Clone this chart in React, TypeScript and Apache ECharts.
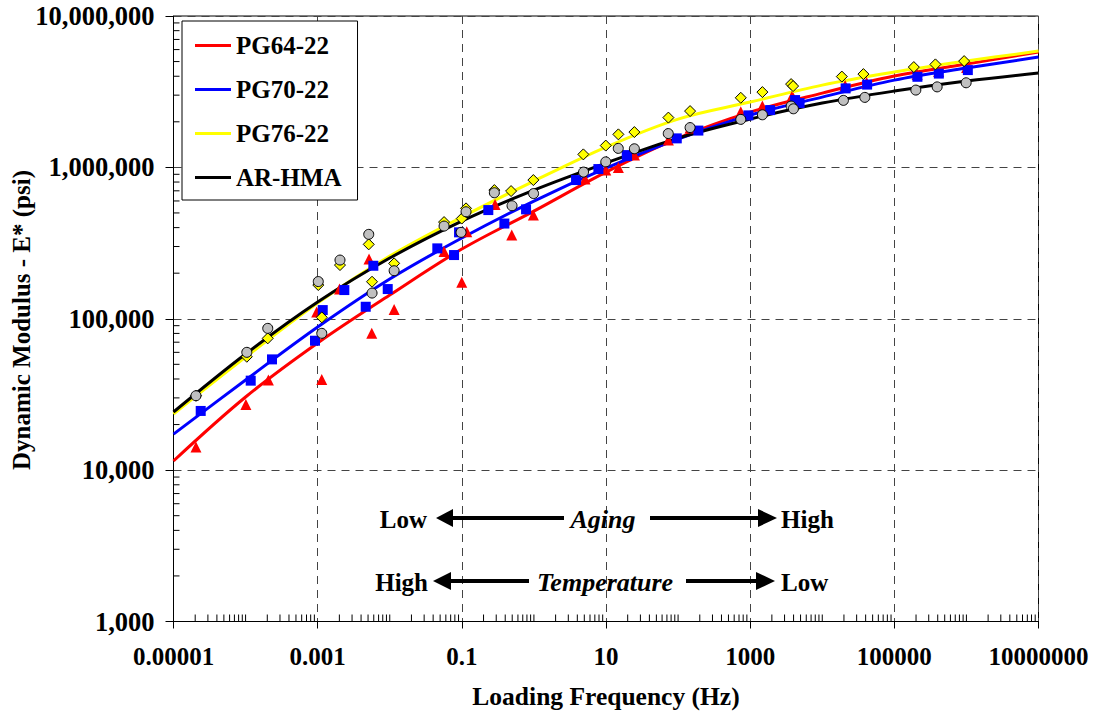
import React, { useEffect, useRef } from "react";
import * as echarts from "echarts";

const FONT = '"Liberation Serif", "Times New Roman", serif';

// Legend / series names
const names = ["PG64-22", "PG70-22", "PG76-22", "AR-HMA"];
const lineColors = ["#ff0000", "#0000ff", "#ffff00", "#000000"];

// Axis titles and tick labels
const xTitle = "Loading Frequency (Hz)";
const yTitle = "Dynamic Modulus - E* (psi)";
const xTickExponents = [-5, -3, -1, 1, 3, 5, 7];
const xTickLabels = ["0.00001", "0.001", "0.1", "10", "1000", "100000", "10000000"];
const yTickLabels = ["1,000", "10,000", "100,000", "1,000,000", "10,000,000"];

// Master curves (frequency in Hz, dynamic modulus in psi)
const curveFreq = [1e-5, 1e-4, 1e-3, 1e-2, 1e-1, 1, 10, 100, 1000, 1e4, 1e5, 1e6, 1e7];
const curvePG6422 = [11490, 30400, 69100, 143400, 288600, 514400, 930900, 1561000, 2318600, 3095600, 4009000, 4811800, 5775000];
const curvePG7022 = [17300, 39370, 88100, 182900, 341300, 599100, 989400, 1537900, 2215200, 2913000, 3772000, 4529000, 5352000];
const curvePG7622 = [23500, 55800, 127000, 259500, 469600, 812100, 1361700, 2085000, 2700000, 3495600, 4260000, 5036000, 5864000];
const curveARHMA = [24200, 58500, 128900, 251700, 441900, 708000, 1067600, 1561000, 2085000, 2659000, 3192000, 3715000, 4196000];

// Measured points (reduced frequency Hz, E* psi)
const pg6422Freq = [2.05e-5, 1.01e-4, 2.07e-4, 9.7e-4, 2.01e-3, 5.16e-3, 1.14e-3, 5.63e-3, 1.15e-2, 5.67e-2, 0.117, 0.289, 0.0997, 0.493, 0.982, 5.12, 9.93, 24.8, 14.85, 73.4, 146.7, 741, 1478, 3781, 3980, 20770, 41260, 207200, 411700, 1006700];
const pg6422Mod = [14200, 27100, 39400, 110700, 157100, 248000, 39700, 80100, 115000, 277900, 375600, 568000, 174200, 357200, 484100, 837000, 959800, 1205500, 1000000, 1514700, 1817600, 2329200, 2540300, 2935200, 2869200, 3470000, 3631700, 4101700, 4292900, 4563500];

const pg7022Freq = [2.385e-5, 1.178e-4, 2.326e-4, 1.176e-3, 2.344e-3, 5.92e-3, 9.19e-4, 4.642e-3, 9.376e-3, 0.0457, 0.0915, 0.233, 0.078, 0.389, 0.778, 3.84, 7.84, 19.4, 19.6, 95.9, 191.2, 944.7, 1890, 4851, 4201, 21100, 41920, 209100, 414400, 1046600];
const pg7022Mod = [24600, 39000, 53900, 114100, 154700, 223900, 71600, 120000, 157100, 291700, 372200, 522300, 263500, 425500, 528000, 824500, 974500, 1205500, 1187300, 1554400, 1750300, 2205100, 2390200, 2659000, 2783400, 3325300, 3522800, 3966700, 4164500, 4391900];

const pg7622Freq = [2.05e-5, 1.04e-4, 2.03e-4, 1.02e-3, 2.04e-3, 5.11e-3, 1.14e-3, 5.68e-3, 1.15e-2, 5.67e-2, 0.1144, 0.2826, 0.0997, 0.482, 0.982, 4.85, 9.93, 24.75, 14.85, 73.4, 146.7, 741, 1478, 3698, 3940, 18690, 37240, 186400, 371500, 929900];
const pg7622Mod = [31000, 56100, 74200, 167000, 226300, 310000, 102100, 175600, 232200, 435200, 536000, 708000, 459000, 697400, 824500, 1218400, 1393100, 1710800, 1652100, 2132600, 2354300, 2882300, 3143100, 3549700, 3443800, 3978800, 4133000, 4598300, 4789900, 5036000];

const arhmaFreq = [2.05e-5, 1.04e-4, 2.03e-4, 1.02e-3, 2.04e-3, 5.11e-3, 1.14e-3, 5.68e-3, 1.15e-2, 5.67e-2, 0.1144, 0.2826, 0.0975, 0.497, 0.989, 4.88, 9.93, 24.75, 14.8, 73.1, 146.7, 741, 1478, 3698, 3980, 19670, 38960, 198700, 392500, 991300];
const arhmaMod = [31000, 60000, 86400, 176100, 244200, 361000, 80100, 147800, 207600, 409500, 509000, 679600, 372200, 557700, 671400, 930900, 1087300, 1327000, 1335100, 1672300, 1831500, 2075000, 2225300, 2540300, 2438000, 2770700, 2900000, 3240500, 3402000, 3620600];

// Minor tick layout on the log axes
const minorMultiples = [2, 3, 4, 5, 6, 7, 8, 9];
const xDecades = [-5, -4, -3, -2, -1, 0, 1, 2, 3, 4, 5, 6];
const xOddDecades = [-4, -2, 0, 2, 4, 6];
const yDecades = [3, 4, 5, 6];

const lg = Math.log10;
const toPts = (f: number[], e: number[]) => f.map((v, i) => [lg(v), lg(e[i])]);

export default function App() {
  const ref = useRef<HTMLDivElement>(null);

  useEffect(() => {
    if (!ref.current) return;
    const chart = echarts.init(ref.current, undefined, { renderer: "svg" });

    const xMinor: number[][] = [];
    xDecades.forEach((k) => minorMultiples.forEach((n) => xMinor.push([k + lg(n), 3])));
    xOddDecades.forEach((k) => xMinor.push([k, 3]));
    const yMinor: number[][] = [];
    yDecades.forEach((k) => minorMultiples.forEach((n) => yMinor.push([-5, k + lg(n)])));

    const curves = [curvePG6422, curvePG7022, curvePG7622, curveARHMA];
    const lineSeries = curves.map((c, i) => ({
      type: "line",
      name: names[i],
      data: toPts(curveFreq, c),
      smooth: 0.35,
      showSymbol: false,
      symbol: "none",
      lineStyle: { color: lineColors[i], width: 3 },
      itemStyle: { color: lineColors[i] },
      z: 2 + i * 0.1,
      silent: true,
    }));

    const scatterDefs = [
      { f: pg6422Freq, e: pg6422Mod, symbol: "triangle", size: 11, color: "#ff0000", border: 0 },
      { f: pg7022Freq, e: pg7022Mod, symbol: "rect", size: 10, color: "#0000ff", border: 0 },
      { f: pg7622Freq, e: pg7622Mod, symbol: "diamond", size: 11, color: "#ffff00", border: 1 },
      { f: arhmaFreq, e: arhmaMod, symbol: "circle", size: 10, color: "#c0c0c0", border: 1 },
    ];
    const scatterSeries = scatterDefs.map((d, i) => ({
      type: "scatter",
      name: names[i] + " measured",
      data: toPts(d.f, d.e),
      symbol: d.symbol,
      symbolSize: d.size,
      itemStyle: { color: d.color, borderColor: "#000", borderWidth: d.border, opacity: 1 },
      z: 3 + i * 0.1,
      silent: true,
    }));

    const txt = (text: string, x: number, y: number, align: string, italic = false) => ({
      type: "text",
      x,
      y,
      style: {
        text,
        font: `${italic ? "italic bold 26px" : "bold 25px"} ${FONT}`,
        fill: "#000",
        align,
        verticalAlign: "middle",
      },
      z: 10,
    });
    const hline = (x1: number, x2: number, y: number) => ({
      type: "line",
      shape: { x1, y1: y, x2, y2: y },
      style: { stroke: "#000", lineWidth: 4 },
      z: 10,
    });
    const head = (tip: number, base: number, y: number) => ({
      type: "polygon",
      shape: { points: [[tip, y], [base, y - 9], [base, y + 9]] },
      style: { fill: "#000" },
      z: 10,
    });

    const labelStyle = { fontFamily: FONT, fontSize: 25, fontWeight: "bold", color: "#000" };

    chart.setOption({
      animation: false,
      backgroundColor: "#ffffff",
      grid: {
        left: 173.5,
        right: 58.5,
        top: 16,
        bottom: 95.5,
        containLabel: false,
        outerBoundsMode: "none",
        show: true,
        borderColor: "#000",
        borderWidth: 1,
        backgroundColor: "transparent",
      },
      legend: {
        orient: "vertical",
        left: 182,
        top: 21,
        padding: [12, 16, 10, 13],
        itemGap: 19,
        itemWidth: 36,
        itemHeight: 3,
        backgroundColor: "#fff",
        borderColor: "#000",
        borderWidth: 1,
        textStyle: { ...labelStyle },
        data: names.map((n) => ({ name: n, icon: "rect" })),
        selectedMode: false,
      },
      xAxis: {
        type: "value",
        min: -5,
        max: 7,
        interval: 2,
        axisLine: { show: true, onZero: false, lineStyle: { color: "#000", width: 1 } },
        axisTick: { show: true, inside: false, length: 7, lineStyle: { color: "#000" } },
        axisLabel: {
          ...labelStyle,
          margin: 22,
          formatter: (v: number) => {
            const idx = xTickExponents.indexOf(Math.round(v));
            return idx >= 0 ? xTickLabels[idx] : "";
          },
        },
        splitLine: { show: true, lineStyle: { color: "#444", type: [8, 6], width: 1 } },
        name: xTitle,
        nameLocation: "middle",
        nameGap: 62,
        nameTextStyle: { ...labelStyle, fontSize: 25.5 },
      },
      yAxis: {
        type: "value",
        min: 3,
        max: 7,
        interval: 1,
        axisLine: { show: true, onZero: false, lineStyle: { color: "#000", width: 1 } },
        axisTick: { show: true, inside: false, length: 8, lineStyle: { color: "#000" } },
        axisLabel: {
          ...labelStyle,
          fontSize: 26.5,
          margin: 19,
          formatter: (v: number) => yTickLabels[Math.round(v) - 3] ?? "",
        },
        splitLine: { show: true, lineStyle: { color: "#444", type: [8, 6], width: 1 } },
      },
      series: [
        ...lineSeries,
        ...scatterSeries,
        {
          type: "custom",
          name: "xMinorTicks",
          silent: true,
          clip: false,
          z: 5,
          data: xMinor,
          encode: { x: 0, y: 1 },
          renderItem: (_p: any, api: any) => {
            const p = api.coord([api.value(0), api.value(1)]);
            return {
              type: "line",
              shape: { x1: p[0], y1: p[1], x2: p[0], y2: p[1] - 7 },
              style: { stroke: "#000", lineWidth: 1 },
            };
          },
        },
        {
          type: "custom",
          name: "yMinorTicks",
          silent: true,
          clip: false,
          z: 5,
          data: yMinor,
          encode: { x: 0, y: 1 },
          renderItem: (_p: any, api: any) => {
            const p = api.coord([api.value(0), api.value(1)]);
            return {
              type: "line",
              shape: { x1: p[0], y1: p[1], x2: p[0] + 6, y2: p[1] },
              style: { stroke: "#000", lineWidth: 1 },
            };
          },
        },
      ],
      graphic: [
        {
          type: "text",
          x: 21,
          y: 320,
          rotation: Math.PI / 2,
          style: {
            text: yTitle,
            font: `bold 25px ${FONT}`,
            fill: "#000",
            align: "center",
            verticalAlign: "middle",
          },
          z: 10,
        },
        txt("Low", 427, 519, "right"),
        head(436, 453, 518),
        hline(450, 564, 518),
        txt("Aging", 603, 519, "center", true),
        hline(650, 760, 518),
        head(777, 758, 518),
        txt("High", 781, 519, "left"),
        txt("High", 428, 582, "right"),
        head(433, 451, 581),
        hline(448, 529, 581),
        txt("Temperature", 605, 582, "center", true),
        hline(686, 759, 581),
        head(775, 756, 581),
        txt("Low", 781, 582, "left"),
      ],
    });

    return () => chart.dispose();
  }, []);

  return (
    <div
      ref={ref}
      style={{ position: "fixed", left: 0, top: 0, width: 1097, height: 717, background: "#fff" }}
    />
  );
}
